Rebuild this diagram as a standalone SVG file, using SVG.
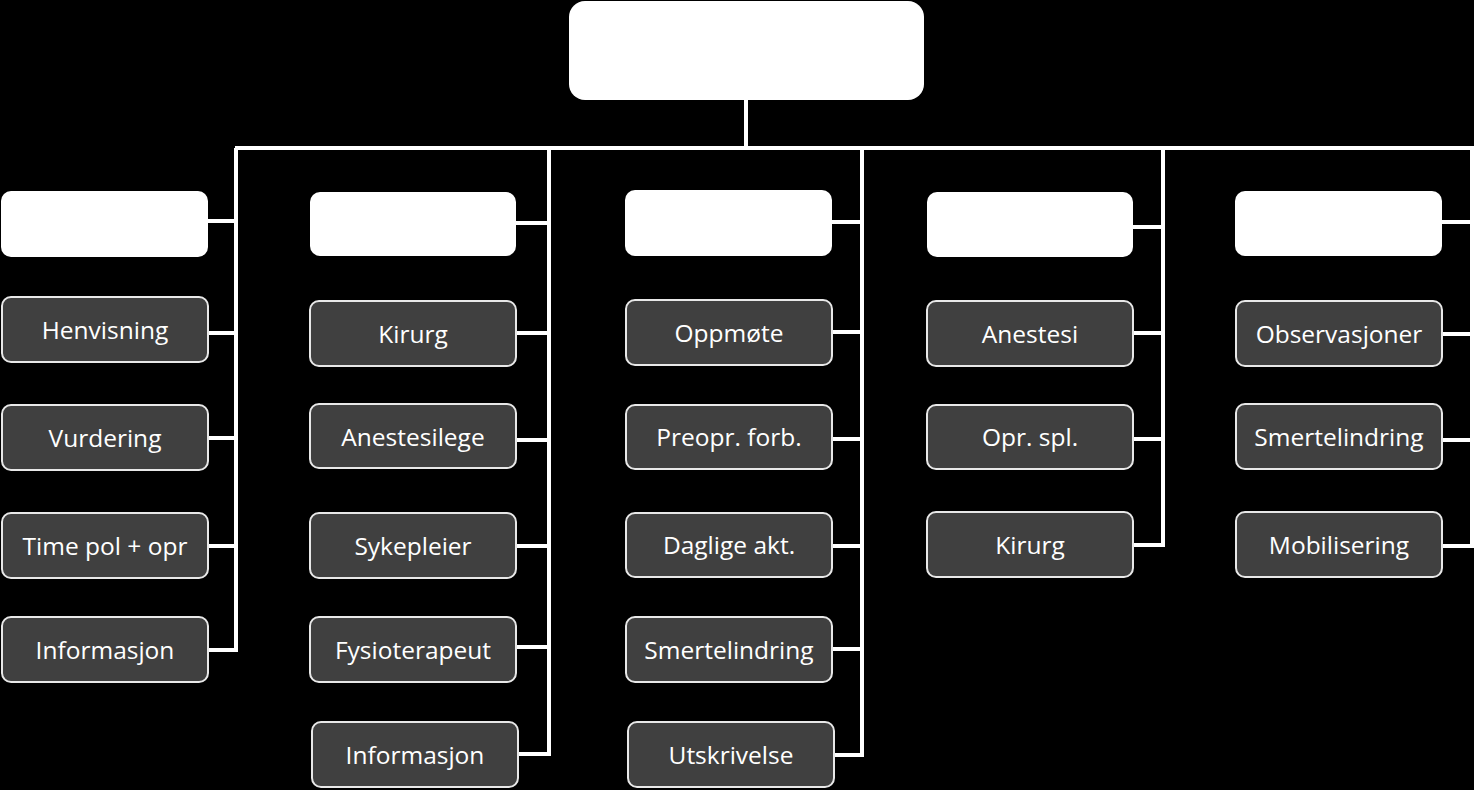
<svg xmlns="http://www.w3.org/2000/svg" width="1474" height="790" viewBox="0 0 1474 790">
<style>
.hdr{fill:#ffffff;}
.item{fill:#404040;stroke:#e8e8e8;stroke-width:2;}
.lbl{fill:#ffffff;font-family:"Open Sans","Liberation Sans",Arial,sans-serif;font-size:24.5px;text-anchor:middle;dominant-baseline:central;}
.con{stroke:#ffffff;stroke-width:4;fill:none;}
</style>
<rect width="1474" height="790" fill="#000000"/>
<g id="connectors">
<path class="con" d="M746 100V148M235 148H1474"/>
<path class="con" d="M236 148V652M208 221H236M208 333H236M208 438H236M208 546H236M208 650H236"/>
<path class="con" d="M549 148V756M516 223H549M516 333H549M516 440H549M516 546H549M516 647H549M518 754H549"/>
<path class="con" d="M862 148V757M832 222H862M832 332H862M832 439H862M832 546H862M832 649H862M834 755H862"/>
<path class="con" d="M1163 148V547M1133 227H1163M1133 333H1163M1133 439H1163M1133 545H1163"/>
<path class="con" d="M1472 148V548M1442 222H1472M1442 334H1472M1442 440H1472M1442 546H1472"/>
</g>
<g id="root"><rect class="hdr" x="569" y="1" width="355" height="99" rx="16"/></g>
<g id="h1"><rect class="hdr" x="1" y="191" width="207" height="66" rx="10"/></g>
<g id="h2"><rect class="hdr" x="310" y="192" width="206" height="64" rx="10"/></g>
<g id="h3"><rect class="hdr" x="625" y="190" width="207" height="66" rx="10"/></g>
<g id="h4"><rect class="hdr" x="927" y="192" width="206" height="65" rx="10"/></g>
<g id="h5"><rect class="hdr" x="1235" y="191" width="207" height="65" rx="10"/></g>

<g id="c1a"><rect class="item" x="2" y="297" width="206" height="65" rx="9"/><text class="lbl" x="105" y="329">Henvisning</text></g>
<g id="c1b"><rect class="item" x="2" y="405" width="206" height="65" rx="9"/><text class="lbl" x="105" y="437">Vurdering</text></g>
<g id="c1c"><rect class="item" x="2" y="513" width="206" height="65" rx="9"/><text class="lbl" x="105" y="545">Time pol + opr</text></g>
<g id="c1d"><rect class="item" x="2" y="617" width="206" height="65" rx="9"/><text class="lbl" x="105" y="649">Informasjon</text></g>

<g id="c2a"><rect class="item" x="310" y="301" width="206" height="65" rx="9"/><text class="lbl" x="413" y="333">Kirurg</text></g>
<g id="c2b"><rect class="item" x="310" y="404" width="206" height="64" rx="9"/><text class="lbl" x="413" y="436">Anestesilege</text></g>
<g id="c2c"><rect class="item" x="310" y="513" width="206" height="65" rx="9"/><text class="lbl" x="413" y="545">Sykepleier</text></g>
<g id="c2d"><rect class="item" x="310" y="617" width="206" height="65" rx="9"/><text class="lbl" x="413" y="649">Fysioterapeut</text></g>
<g id="c2e"><rect class="item" x="312" y="722" width="206" height="65" rx="9"/><text class="lbl" x="415" y="754">Informasjon</text></g>

<g id="c3a"><rect class="item" x="626" y="300" width="206" height="65" rx="9"/><text class="lbl" x="729" y="332">Oppmøte</text></g>
<g id="c3b"><rect class="item" x="626" y="405" width="206" height="64" rx="9"/><text class="lbl" x="729" y="436">Preopr. forb.</text></g>
<g id="c3c"><rect class="item" x="626" y="513" width="206" height="64" rx="9"/><text class="lbl" x="729" y="544">Daglige akt.</text></g>
<g id="c3d"><rect class="item" x="626" y="617" width="206" height="65" rx="9"/><text class="lbl" x="729" y="649">Smertelindring</text></g>
<g id="c3e"><rect class="item" x="628" y="722" width="206" height="65" rx="9"/><text class="lbl" x="731" y="754">Utskrivelse</text></g>

<g id="c4a"><rect class="item" x="927" y="301" width="206" height="65" rx="9"/><text class="lbl" x="1030" y="333">Anestesi</text></g>
<g id="c4b"><rect class="item" x="927" y="405" width="206" height="64" rx="9"/><text class="lbl" x="1030" y="436">Opr. spl.</text></g>
<g id="c4c"><rect class="item" x="927" y="512" width="206" height="65" rx="9"/><text class="lbl" x="1030" y="544">Kirurg</text></g>

<g id="c5a"><rect class="item" x="1236" y="301" width="206" height="65" rx="9"/><text class="lbl" x="1339" y="333">Observasjoner</text></g>
<g id="c5b"><rect class="item" x="1236" y="404" width="206" height="65" rx="9"/><text class="lbl" x="1339" y="436">Smertelindring</text></g>
<g id="c5c"><rect class="item" x="1236" y="512" width="206" height="65" rx="9"/><text class="lbl" x="1339" y="544">Mobilisering</text></g>
</svg>
